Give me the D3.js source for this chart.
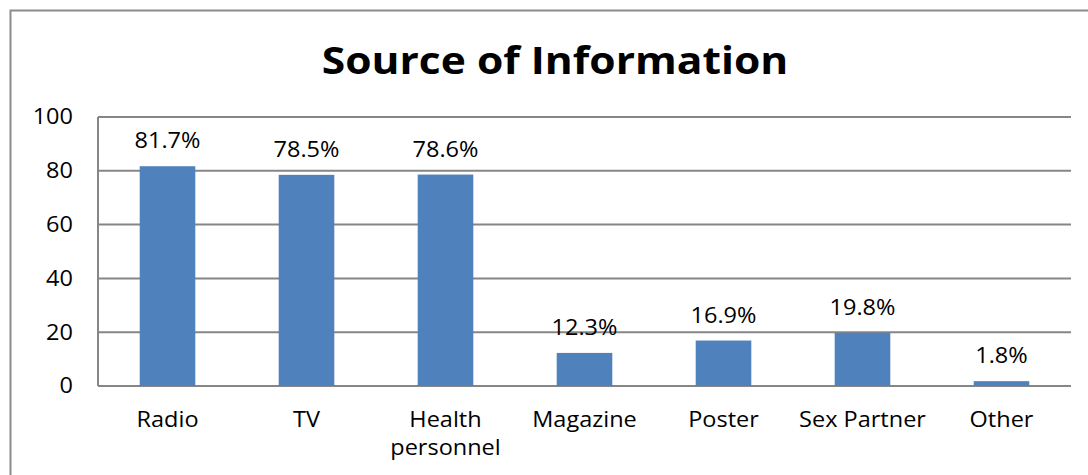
<!DOCTYPE html>
<html>
<head>
<meta charset="utf-8">
<script src="https://cdn.jsdelivr.net/npm/d3@7"></script>
<style>
  body { margin: 0; background: #fff; }
  text { font-family: "Open Sans", "Noto Sans", sans-serif; fill: #000; }
</style>
</head>
<body>
<div class="chart"></div>
<script>
const svgWidth = 1088;
const svgHeight = 475;
const stretch = 1.12; // text in the original is a bit wider than Open Sans

// data
const categories = ["Radio", "TV", "Health personnel", "Magazine", "Poster", "Sex Partner", "Other"];
const values = [81.7, 78.5, 78.6, 12.3, 16.9, 19.8, 1.8];
const yTicks = [0, 20, 40, 60, 80, 100];

const svg = d3.select(".chart")
    .append("svg")
    .attr("width", svgWidth)
    .attr("height", svgHeight);

// place text at (x, y) and widen it horizontally
const place = (x, y) => `translate(${x},${y}) scale(${stretch},1)`;

// outer frame
svg.append("rect")
    .attr("x", 10.5).attr("y", 10.5)
    .attr("width", 1100).attr("height", 500)
    .attr("fill", "none")
    .attr("stroke", "#8c8c8c")
    .attr("stroke-width", 2);

// title
svg.append("text")
    .attr("transform", place(555, 74))
    .attr("text-anchor", "middle")
    .style("font-size", "38px")
    .style("font-weight", "bold")
    .text("Source of Information");

const plotLeft = 98, plotRight = 1071, plotTop = 117, plotBottom = 386;

const x = d3.scaleBand()
    .domain(categories)
    .range([plotLeft, plotRight])
    .paddingInner(0.6)
    .paddingOuter(0.3);

const y = d3.scaleLinear()
    .domain([0, 100])
    .range([plotBottom, plotTop]);

// gridlines
svg.append("g")
    .selectAll("line")
    .data(yTicks)
    .join("line")
    .attr("x1", plotLeft).attr("x2", plotRight)
    .attr("y1", d => y(d)).attr("y2", d => y(d))
    .attr("stroke", "#868686")
    .attr("stroke-width", 2);

// y axis line
svg.append("line")
    .attr("x1", plotLeft).attr("x2", plotLeft)
    .attr("y1", plotTop).attr("y2", plotBottom)
    .attr("stroke", "#868686")
    .attr("stroke-width", 2);

// y tick labels
svg.append("g")
    .selectAll("text")
    .data(yTicks)
    .join("text")
    .attr("transform", d => place(73, y(d)))
    .attr("dy", "0.35em")
    .attr("text-anchor", "end")
    .style("font-size", "21px")
    .text(d => d);

// bars
svg.append("g")
    .selectAll("rect")
    .data(values)
    .join("rect")
    .attr("x", (d, i) => x(categories[i]))
    .attr("y", d => y(d))
    .attr("width", x.bandwidth())
    .attr("height", d => plotBottom - y(d))
    .attr("fill", "#4f81bd");

// value labels
svg.append("g")
    .selectAll("text")
    .data(values)
    .join("text")
    .attr("transform", (d, i) => place(x(categories[i]) + x.bandwidth() / 2, y(d) - 18))
    .attr("text-anchor", "middle")
    .style("font-size", "21px")
    .text(d => d.toFixed(1) + "%");

// category labels
const catLabels = svg.append("g")
    .selectAll("text")
    .data(categories)
    .join("text")
    .attr("transform", d => place(x(d) + x.bandwidth() / 2, 427))
    .attr("text-anchor", "middle")
    .style("font-size", "21px");

catLabels.each(function (d) {
    const words = d === "Health personnel" ? ["Health", "personnel"] : [d];
    d3.select(this).selectAll("tspan")
        .data(words)
        .join("tspan")
        .attr("x", 0)
        .attr("dy", (w, i) => i === 0 ? 0 : 28)
        .text(w => w);
});
</script>
</body>
</html>
